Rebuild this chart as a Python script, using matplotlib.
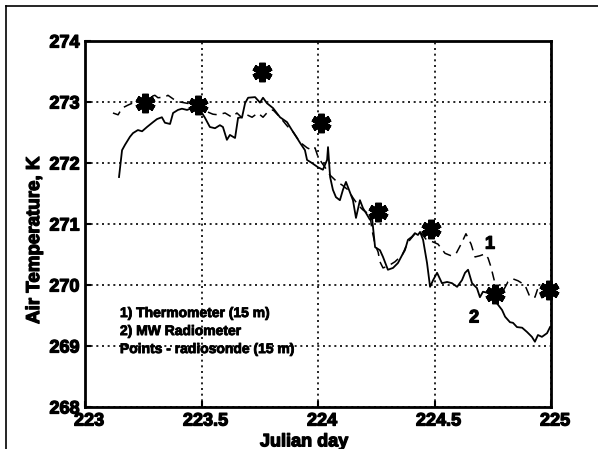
import matplotlib
matplotlib.use('Agg')
import matplotlib.pyplot as plt
import matplotlib.patheffects as pe
import matplotlib.transforms as mtransforms
from matplotlib.lines import Line2D

plt.rcParams['font.family'] = ['Liberation Sans', 'DejaVu Sans']
plt.rcParams['font.weight'] = 'bold'

# 2) MW radiometer (solid)
radio_day = [223.146, 223.159, 223.172, 223.193, 223.206, 223.227, 223.245, 223.266,
             223.292, 223.309, 223.330, 223.343, 223.365, 223.378, 223.399, 223.416,
             223.438, 223.459, 223.481, 223.494, 223.515, 223.536, 223.558, 223.579,
             223.592, 223.609, 223.622, 223.644, 223.657, 223.674, 223.687, 223.700,
             223.730, 223.751, 223.764, 223.781, 223.807, 223.837, 223.867, 223.888,
             223.910, 223.923, 223.944, 223.953, 223.974, 224.000, 224.021, 224.039,
             224.043, 224.052, 224.064, 224.077, 224.094, 224.107, 224.120, 224.137,
             224.150, 224.163, 224.180, 224.193, 224.206, 224.223, 224.232, 224.245,
             224.266, 224.279, 224.300, 224.322, 224.343, 224.361, 224.373, 224.386,
             224.403, 224.416, 224.429, 224.438, 224.451, 224.468, 224.481, 224.494,
             224.511, 224.532, 224.554, 224.575, 224.597, 224.618, 224.631, 224.644,
             224.661, 224.682, 224.695, 224.708, 224.730, 224.747, 224.768, 224.790,
             224.803, 224.824, 224.837, 224.854, 224.876, 224.897, 224.918, 224.931,
             224.944, 224.961, 224.983, 224.996]
radio_temp = [271.77, 272.21, 272.30, 272.43, 272.49, 272.54, 272.52, 272.59,
              272.67, 272.72, 272.75, 272.66, 272.64, 272.82, 272.87, 272.89,
              272.87, 272.90, 272.84, 272.87, 272.74, 272.59, 272.57, 272.62,
              272.59, 272.38, 272.46, 272.41, 272.74, 272.75, 272.98, 273.07,
              273.08, 272.99, 273.07, 272.98, 272.90, 272.75, 272.67, 272.54,
              272.41, 272.33, 272.21, 272.05, 272.00, 271.93, 271.89, 272.05,
              272.26, 271.77, 271.56, 271.44, 271.39, 271.56, 271.69, 271.52,
              271.39, 271.10, 271.39, 271.26, 271.18, 271.07, 271.10, 270.62,
              270.57, 270.46, 270.25, 270.28, 270.36, 270.49, 270.57, 270.74,
              270.79, 270.85, 270.82, 270.87, 270.74, 270.36, 269.97, 270.08,
              270.20, 270.03, 270.05, 270.03, 269.97, 270.08, 270.20, 270.25,
              270.03, 269.95, 269.80, 269.89, 269.87, 269.79, 269.70, 269.59,
              269.48, 269.39, 269.38, 269.31, 269.30, 269.23, 269.15, 269.07,
              269.18, 269.15, 269.21, 269.31]

# 1) thermometer (dashed)
thermo_day = [223.120, 223.142, 223.159, 223.185, 223.215, 223.236, 223.300, 223.313,
              223.343, 223.356, 223.386, 223.408, 223.451, 223.481, 223.506, 223.524,
              223.549, 223.571, 223.601, 223.631, 223.652, 223.674, 223.695, 223.717,
              223.742, 223.764, 223.785, 223.807, 223.837, 223.867, 223.893, 223.923,
              223.953, 223.974, 223.987, 224.000, 224.017, 224.030, 224.052, 224.082,
              224.103, 224.129, 224.150, 224.172, 224.193, 224.223, 224.232, 224.245,
              224.258, 224.266, 224.279, 224.300, 224.330, 224.361, 224.386, 224.416,
              224.438, 224.464, 224.485, 224.515, 224.545, 224.571, 224.592, 224.614,
              224.635, 224.657, 224.674, 224.695, 224.717, 224.730, 224.742, 224.760,
              224.773, 224.794, 224.815, 224.837, 224.858, 224.888, 224.910, 224.931,
              224.944, 224.961, 224.979, 224.996]
thermo_temp = [272.82, 272.79, 272.90, 272.95, 273.00, 273.03, 273.11, 273.07,
               273.08, 273.11, 273.03, 273.00, 272.97, 272.90, 272.87, 272.84,
               272.80, 272.79, 272.82, 272.75, 272.82, 272.74, 272.79, 272.75,
               272.82, 272.75, 272.84, 272.87, 272.75, 272.61, 272.51, 272.34,
               272.25, 272.21, 272.25, 272.10, 272.00, 271.93, 271.80, 271.69,
               271.64, 271.56, 271.43, 271.31, 271.23, 271.15, 270.90, 270.66,
               270.54, 270.38, 270.28, 270.31, 270.38, 270.49, 270.70, 270.84,
               270.87, 270.75, 270.72, 270.67, 270.52, 270.48, 270.51, 270.67,
               270.84, 270.67, 270.46, 270.48, 270.51, 270.44, 270.30, 270.02,
               269.85, 269.90, 270.05, 270.10, 270.07, 270.00, 269.80, 269.80,
               269.95, 269.79, 269.87, 269.92]

# radiosonde points
sonde_day = [223.258, 223.485, 223.76, 224.013, 224.257, 224.485, 224.76, 224.99]
sonde_temp = [272.98, 272.95, 273.49, 272.66, 271.20, 270.92, 269.85, 269.92]

xticks = [223, 223.5, 224, 224.5, 225]
xlabels = ['223', '223.5', '224', '224.5', '225']
yticks = [268, 269, 270, 271, 272, 273, 274]

legend_lines = ['1) Thermometer (15 m)', '2) MW Radiometer', 'Points - radiosonde (15 m)']

heavy = [pe.withStroke(linewidth=0.9, foreground='black')]

fig = plt.figure(figsize=(5.98, 4.49), dpi=100)
ax = fig.add_axes([85 / 598, 1 - 407 / 449, 466 / 598, 366 / 449])

ax.plot(thermo_day, thermo_temp, color='black', lw=1.1, dashes=(6, 4))
ax.plot(radio_day, radio_temp, color='black', lw=1.3)
ax.plot(sonde_day, sonde_temp, ls='none', marker=(6, 2, 0), ms=14, mew=4.5,
        color='black', clip_on=False)

ax.set_xlim(223, 225)
ax.set_ylim(268, 274)
ax.set_xticks(xticks)
ax.set_xticklabels(xlabels)
ax.set_yticks(yticks)
ax.tick_params(direction='in', length=4, width=1.5, labelsize=13)
ax.tick_params(axis='x', pad=4)
ax.tick_params(axis='y', pad=4)
ax.grid(True, color='black', ls=(0, (1.2, 2.2)), lw=1.2)
for s in ax.spines.values():
    s.set_linewidth(2)

shift = mtransforms.ScaledTranslation(0.04, 0, fig.dpi_scale_trans)
for lab in ax.get_xticklabels():
    lab.set_transform(lab.get_transform() + shift)
    lab.set_path_effects(heavy)
for lab in ax.get_yticklabels():
    lab.set_path_effects(heavy)

ax.set_xlabel('Julian day', fontsize=13, fontweight='bold', path_effects=heavy)
ax.xaxis.set_label_coords(0.47, -0.072)
ax.set_ylabel('Air Temperature, K', fontsize=13.5, fontweight='bold', path_effects=heavy)
ax.yaxis.set_label_coords(-0.09, 0.455)

ax.text(224.738, 270.67, '1', fontsize=13, fontweight='bold', ha='center', va='center',
        path_effects=heavy)
ax.text(224.67, 269.46, '2', fontsize=13, fontweight='bold', ha='center', va='center',
        path_effects=heavy)

for i, t in enumerate(legend_lines):
    ax.text(223.15, 269.54 - 0.295 * i, t, fontsize=10, fontweight='bold',
            ha='left', va='center',
            path_effects=[pe.withStroke(linewidth=0.6, foreground='black')])

# outer frame
fig.add_artist(Line2D([6 / 598, 1], [1 - 6 / 449, 1 - 6 / 449], color='black', lw=1.2))
fig.add_artist(Line2D([6 / 598, 6 / 598], [0, 1 - 6 / 449], color='black', lw=1.2))

fig.savefig('out.png', dpi=100)
